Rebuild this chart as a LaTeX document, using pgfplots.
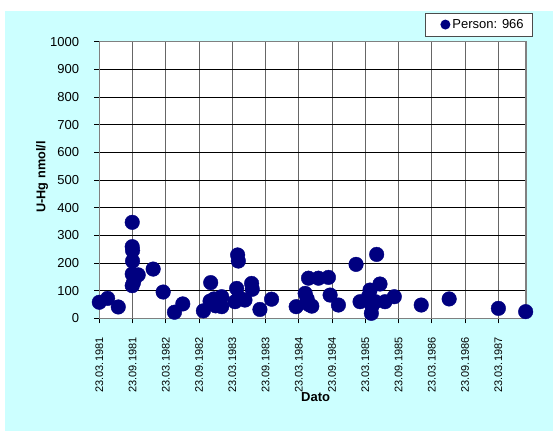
\documentclass[border=0pt]{standalone}
\usepackage{fontspec}
\setmainfont{Liberation Sans}
\usepackage{pgfplots}
\pgfplotsset{compat=1.18}
\definecolor{bgcyan}{HTML}{CCFFFF}
\definecolor{navyc}{HTML}{000080}
\begin{document}
\begin{tikzpicture}
\path (-99.3bp,-112.7bp) rectangle (453.7bp,318.3bp);
\fill[bgcyan] (-94.3bp,-112.7bp) rectangle (453.7bp,307.3bp);
\begin{axis}[
  at={(0,0)}, anchor=south west,
  scale only axis, width=426.7bp, height=276.6bp,
  xmin=0, xmax=12.83, ymin=0, ymax=1000,
  clip=false,
  axis background/.style={fill=white},
  axis line style={draw=gray, line width=1.2pt},
  xtick={0,1,...,12},
  xticklabels={23.03.1981,23.09.1981,23.03.1982,23.09.1982,23.03.1983,23.09.1983,23.03.1984,23.09.1984,23.03.1985,23.09.1985,23.03.1986,23.09.1986,23.03.1987},
  ytick={0,100,...,1000},
  xtick pos=bottom, ytick pos=left,
  tick align=outside, major tick length=5bp,
  tick style={black, line width=0.8pt},
  grid=major,
  x grid style={gray!80!black, line width=1pt},
  y grid style={black, line width=0.7pt},
  /pgf/number format/assume math mode=true,
  x tick label style={rotate=90, anchor=east, inner sep=0pt, xshift=-14bp, font=\fontsize{11bp}{12bp}\selectfont},
  y tick label style={anchor=east, inner sep=0pt, xshift=-15bp, font=\fontsize{13bp}{14bp}\selectfont},
  /pgf/number format/1000 sep={},
  xlabel={Dato},
  xlabel style={at={(axis description cs:0.507,0)}, anchor=center, yshift=-78.4bp, inner sep=0pt, font=\bfseries\fontsize{13bp}{14bp}\selectfont},
  ylabel={U-Hg nmol/l},
  ylabel style={at={(axis description cs:0,0.511)}, anchor=center, yshift=57.3bp, inner sep=0pt, font=\bfseries\fontsize{12.7bp}{14bp}\selectfont},
  legend style={at={(1.0164,1.1038)}, anchor=north east, draw=black!70, fill=white, line width=0.6pt,
    font=\fontsize{13bp}{14bp}\selectfont, inner xsep=7bp, inner ysep=4bp, legend cell align=left},
  legend image code/.code={\path[draw=none,fill=none] (-8bp,0bp) -- (0bp,0bp); \fill[navyc,draw=none] (5bp,0bp) circle (5bp);},
]
\addplot[only marks, mark=*, mark size=7.3bp, mark options={draw=navyc, fill=navyc}] coordinates {
(0.0,58) (0.25,72) (0.57,41) (0.99,347) (0.99,259) (1.0,245) (1.0,207) (0.99,160) (1.17,157) (0.99,118) (1.03,130)
(1.62,178) (1.92,95) (2.26,22) (2.51,52)
(3.13,27) (3.33,62) (3.35,129) (3.45,70) (3.5,45) (3.68,78) (3.68,42) (3.6,55)
(4.16,229) (4.18,207) (4.13,108) (4.08,60) (4.2,75) (4.38,66) (4.58,126) (4.6,105) (4.83,32) (5.18,69)
(5.92,42) (6.19,90) (6.25,70) (6.29,145) (6.3,50) (6.39,44) (6.59,145) (6.89,148) (6.94,84) (7.19,48)
(7.72,195) (7.84,60) (8.14,102) (8.18,18) (8.2,45) (8.1,80) (8.34,231) (8.44,124) (8.3,60) (8.59,60) (8.87,78)
(9.68,48) (10.52,70) (12.0,36) (12.82,24)
};
\addlegendentry{Person: 966}
\end{axis}
\end{tikzpicture}
\end{document}
